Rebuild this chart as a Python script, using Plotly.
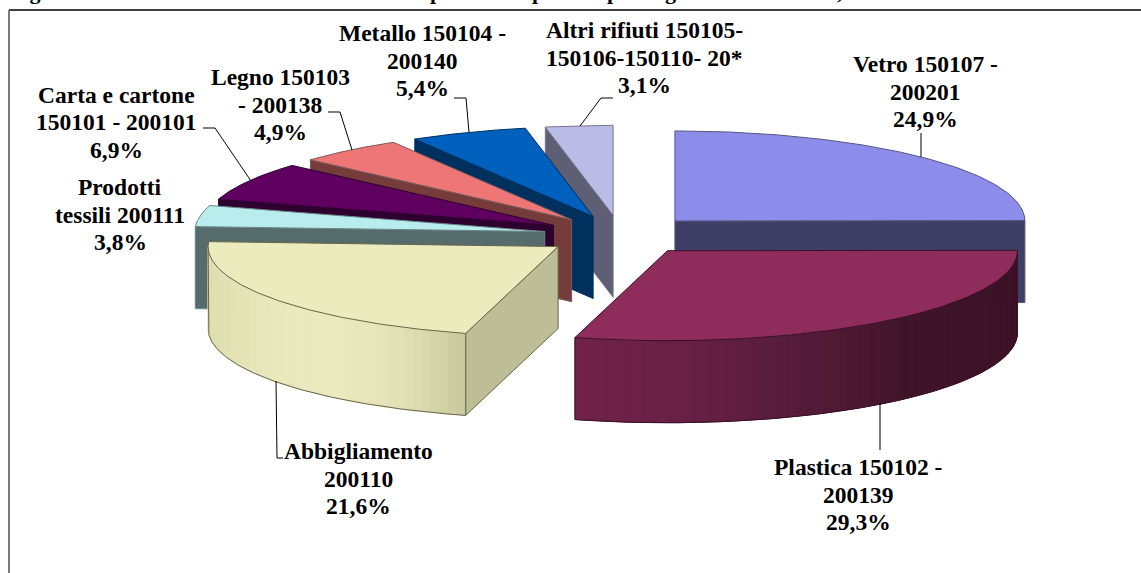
import math
import plotly.graph_objects as go

CATEGORIES = ["Vetro 150107 - 200201", "Plastica 150102 - 200139", "Abbigliamento 200110",
              "Prodotti tessili 200111", "Carta e cartone 150101 - 200101", "Legno 150103 - 200138",
              "Metallo 150104 - 200140", "Altri rifiuti 150105-150106-150110- 20*"]
VALUES = [24.9, 29.3, 21.6, 3.8, 6.9, 4.9, 5.4, 3.1]
TOP_COLORS = ["#8C8CEB", "#8E2C5C", "#EBEBBD", "#B9EDED", "#5F0060", "#EE7676", "#0060BE", "#BBBBE8"]
FACE_COLORS = ["#3E3E66", "#3E3E66", "#BDBD96", "#566B6B", "#2E002F", "#763B3B", "#00305E", "#5E5E74"]
EDGE_COLORS = ["#55557F", "#3A1028", "#66664A", "#6A8585", "#2E002F", "#7A5A5A", "#00305E", "#77778F"]
ARC_GRADIENTS = {1: [(60, 18, 38), (64, 20, 40), (86, 28, 58), (104, 32, 68), (112, 34, 72)],
                 2: [(200, 200, 158), (225, 225, 182), (234, 234, 190), (232, 232, 188), (222, 222, 176)]}
LABEL_LINES = [["Vetro 150107 -", "200201", "24,9%"], ["Plastica 150102 -", "200139", "29,3%"],
               ["Abbigliamento", "200110", "21,6%"], ["Prodotti", "tessili 200111", "3,8%"],
               ["Carta e cartone", "150101 - 200101", "6,9%"], ["Legno 150103", "- 200138", "4,9%"],
               ["Metallo 150104 -", "200140", "5,4%"], ["Altri rifiuti 150105-", "150106-150110- 20*", "3,1%"]]
LABEL_X = [925, 858, 358, 120, 116, 280, 422, 644]
LABEL_Y = [64, 467, 451, 187, 94.5, 77, 33, 30]
LEADERS = [([921, 921], [133, 157]), ([880, 880], [403, 450]), ([276, 277, 283], [381, 458, 458]),
           None, ([251, 215, 203], [181, 128, 128]), ([352, 340, 328], [150, 112, 112]),
           ([469, 466, 454], [132, 98, 98]), ([580, 601, 613], [126, 98, 98])]
TITLE_FRAGMENTS = [("Figura", 8), ("p", 428), ("p", 530), ("p", 605), ("g", 663), (",", 835)]

CX, CY, RX, RY, DEPTH, EXPLODE = 620.6, 235.0, 350.0, 90.0, 82.0, 77.0
FONT = "Liberation Serif"
LINE_STEP = 27.5
HEIGHT = 573


def pt(ax, ay, deg, dz=0.0):
    a = math.radians(deg)
    return ax + RX * math.sin(a), ay - RY * math.cos(a) + dz


def poly(xs, ys, fill, line=None, width=1.0):
    return go.Scatter(x=xs, y=ys, mode="lines", fill="toself", fillcolor=fill,
                      line=dict(color=line or fill, width=width), hoverinfo="skip", showlegend=False)


def edge(xs, ys, color, width=1.0):
    return go.Scatter(x=xs, y=ys, mode="lines", line=dict(color=color, width=width),
                      hoverinfo="skip", showlegend=False)


def lerp_colour(stops, t):
    s = t * (len(stops) - 1)
    i = min(int(s), len(stops) - 2)
    f = s - i
    c = [round(stops[i][k] + (stops[i + 1][k] - stops[i][k]) * f) for k in range(3)]
    return f"rgb({c[0]},{c[1]},{c[2]})"


total = sum(VALUES)
slices = []
acc = 0.0
for i, v in enumerate(VALUES):
    s = acc / total * 360
    acc += v
    e = acc / total * 360
    m = math.radians((s + e) / 2)
    slices.append(dict(i=i, s=s, e=e, cos=math.cos(m),
                       ax=CX + EXPLODE * math.sin(m), ay=CY - EXPLODE * RY / RX * math.cos(m)))

fig = go.Figure()
for sl in sorted(slices, key=lambda d: -d["cos"]):
    i, s, e, ax, ay = sl["i"], sl["s"], sl["e"], sl["ax"], sl["ay"]
    # radial faces that look towards the viewer
    for deg, show in ((s, math.sin(math.radians(s)) < -1e-6), (e, math.sin(math.radians(e)) > 1e-6)):
        if show:
            px, py = pt(ax, ay, deg)
            fig.add_trace(poly([ax, px, px, ax, ax], [ay, py, py + DEPTH, ay + DEPTH, ay],
                               FACE_COLORS[i], EDGE_COLORS[i], 1.0))
    # outer wall, front half only
    lo, hi = max(s, 90.0), min(e, 270.0)
    if hi > lo:
        n = 48
        stops = ARC_GRADIENTS.get(i, [(120, 120, 120), (120, 120, 120)])
        xmax = pt(ax, ay, lo)[0]
        xmin = pt(ax, ay, hi)[0]
        for k in range(n):
            d0, d1 = lo + (hi - lo) * k / n, lo + (hi - lo) * (k + 1) / n
            x0, y0 = pt(ax, ay, d0)
            x1, y1 = pt(ax, ay, d1)
            t = ((x0 + x1) / 2 - xmax) / (xmin - xmax)
            fig.add_trace(poly([x0, x1, x1, x0, x0], [y0, y1, y1 + DEPTH, y0 + DEPTH, y0], lerp_colour(stops, t)))
        arc = [lo + (hi - lo) * k / 120 for k in range(121)]
        bx, by = zip(*[pt(ax, ay, d, DEPTH) for d in arc])
        lx0, ly0 = pt(ax, ay, hi)
        rx0, ry0 = pt(ax, ay, lo)
        fig.add_trace(edge([lx0, *bx[::-1], rx0], [ly0, *by[::-1], ry0], EDGE_COLORS[i]))
    # top face
    arc = [s + (e - s) * k / 120 for k in range(121)]
    tx, ty = zip(*[pt(ax, ay, d) for d in arc])
    fig.add_trace(poly([ax, *tx, ax], [ay, *ty, ay], TOP_COLORS[i], EDGE_COLORS[i], 1.0))

for lead in LEADERS:
    if lead:
        fig.add_trace(edge(lead[0], lead[1], "#000000", 1.0))

annotations = []
for lines, x, y in zip(LABEL_LINES, LABEL_X, LABEL_Y):
    for j, text in enumerate(lines):
        annotations.append(dict(x=x, y=y + j * LINE_STEP, text=f"<b>{text}</b>", showarrow=False, xanchor="center",
                                yanchor="middle", font=dict(family=FONT, size=23.5, color="#000000")))
for text, x in TITLE_FRAGMENTS:
    annotations.append(dict(x=x, y=1 - 6 / HEIGHT, xref="x", yref="paper", text=f"<b>{text}</b>", showarrow=False,
                            xanchor="left", yanchor="bottom", font=dict(family=FONT, size=22, color="#000000")))

fig.update_layout(
    width=1141, height=HEIGHT, margin=dict(l=0, r=0, t=0, b=0), autosize=False,
    paper_bgcolor="#FFFFFF", plot_bgcolor="#FFFFFF", showlegend=False,
    xaxis=dict(range=[0, 1141], visible=False, fixedrange=True),
    yaxis=dict(range=[HEIGHT, 0], visible=False, fixedrange=True),
    annotations=annotations,
    shapes=[dict(type="line", x0=9, x1=1141, y0=10, y1=10, line=dict(color="#000000", width=1.5)),
            dict(type="line", x0=9, x1=9, y0=10, y1=HEIGHT, line=dict(color="#7A7A7A", width=2))],
)
fig.write_html("out.html", config={"displayModeBar": False},
               post_script="document.body.style.margin='0';document.documentElement.style.overflow='hidden';")
